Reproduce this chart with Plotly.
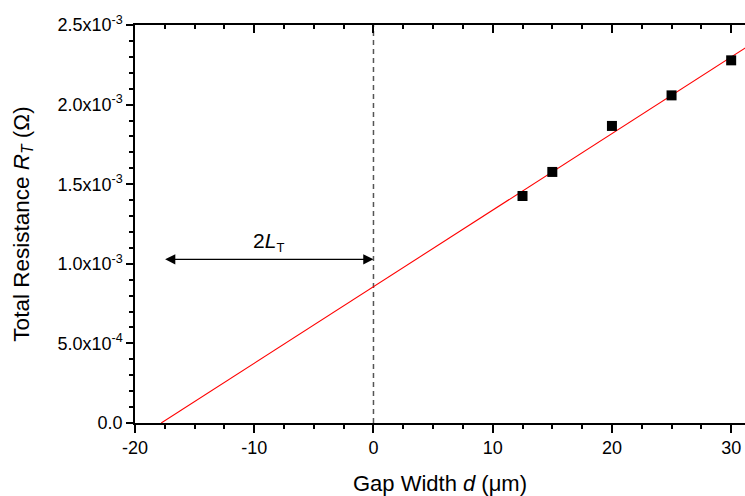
import plotly.graph_objects as go

# data
gap_width = [12.5, 15, 20, 25, 30]
resistance = [1.426e-3, 1.577e-3, 1.866e-3, 2.058e-3, 2.278e-3]

# linear fit line endpoints
fit_x = [-17.8, 31.2]
fit_y = [0.0, 2.357e-3]

# 2L_T arrow
arrow_x = [-17.6, 0.0]
arrow_y = 1.028e-3

x_range = [-20, 31.16]
y_range = [0, 2.5e-3]

y_tickvals = [0, 5e-4, 1e-3, 1.5e-3, 2e-3, 2.5e-3]
y_ticktext = ["0.0", "5.0x10<sup>-4</sup>", "1.0x10<sup>-3</sup>",
              "1.5x10<sup>-3</sup>", "2.0x10<sup>-3</sup>", "2.5x10<sup>-3</sup>"]
x_tickvals = [-20, -10, 0, 10, 20, 30]
x_ticktext = ["-20", "-10", "0", "10", "20", "30"]

FONT = "Liberation Sans, Arial, sans-serif"

fig = go.Figure()

# dashed vertical line at d = 0
fig.add_trace(go.Scatter(x=[0, 0], y=y_range, mode="lines",
                         line=dict(color="#555555", width=1.5, dash="5px,4px"),
                         hoverinfo="skip", showlegend=False))

# fit line
fig.add_trace(go.Scatter(x=fit_x, y=fit_y, mode="lines",
                         line=dict(color="red", width=1.1),
                         showlegend=False))

# data points
fig.add_trace(go.Scatter(x=gap_width, y=resistance, mode="markers",
                         marker=dict(symbol="square", size=10, color="black",
                                     line=dict(width=0)),
                         showlegend=False))

# invisible trace to anchor the top axis
fig.add_trace(go.Scatter(x=x_range, y=y_range, xaxis="x2", mode="markers",
                         marker=dict(opacity=0), hoverinfo="skip", showlegend=False))

# double-headed arrow
fig.add_annotation(x=arrow_x[1], y=arrow_y, ax=arrow_x[0], ay=arrow_y,
                   xref="x", yref="y", axref="x", ayref="y",
                   text="", showarrow=True, arrowhead=2, startarrowhead=2,
                   arrowside="end+start", arrowsize=1.7, startarrowsize=1.7,
                   arrowwidth=1.2, arrowcolor="black")
fig.add_annotation(x=(arrow_x[0] + arrow_x[1]) / 2, y=arrow_y, xref="x", yref="y",
                   text="2<i>L</i><sub><span style='font-size:13px'>T</span></sub>",
                   showarrow=False, yanchor="bottom", yshift=2,
                   font=dict(family=FONT, size=21, color="black"))

fig.update_layout(
    width=745, height=496,
    margin=dict(l=135, r=0, t=25, b=73),
    paper_bgcolor="white", plot_bgcolor="white",
    font=dict(family=FONT, size=18, color="black"),
    xaxis=dict(range=x_range, tickvals=x_tickvals, ticktext=x_ticktext,
               ticks="outside", ticklen=8, tickwidth=1.5, tickcolor="black",
               minor=dict(dtick=2.5, tick0=0, ticks="outside", ticklen=4,
                          tickwidth=1.5, tickcolor="black"),
               showline=True, linecolor="black", linewidth=1.5,
               showgrid=False, zeroline=False,
               title=dict(text="Gap Width <i>d</i> (μm)", standoff=18,
                          font=dict(size=22))),
    xaxis2=dict(range=x_range, overlaying="x", side="top", anchor="y",
                tickvals=x_tickvals, showticklabels=False,
                ticks="inside", ticklen=8, tickwidth=1.5, tickcolor="black",
                minor=dict(dtick=2.5, tick0=0, ticks="inside", ticklen=4,
                           tickwidth=1.5, tickcolor="black"),
                showline=True, linecolor="black", linewidth=1.5,
                showgrid=False, zeroline=False),
    yaxis=dict(range=y_range, tickvals=y_tickvals, ticktext=y_ticktext,
               ticks="outside", ticklen=7, tickwidth=1.5, tickcolor="black",
               minor=dict(dtick=1e-4, tick0=0, ticks="outside", ticklen=4,
                          tickwidth=1.5, tickcolor="black"),
               showline=True, linecolor="black", linewidth=1.5,
               showgrid=False, zeroline=False,
               title=dict(text="Total Resistance <i>R</i><sub><i>T</i></sub> (Ω)",
                          standoff=22, font=dict(size=22.5))),
)

fig.write_html("out.html")
